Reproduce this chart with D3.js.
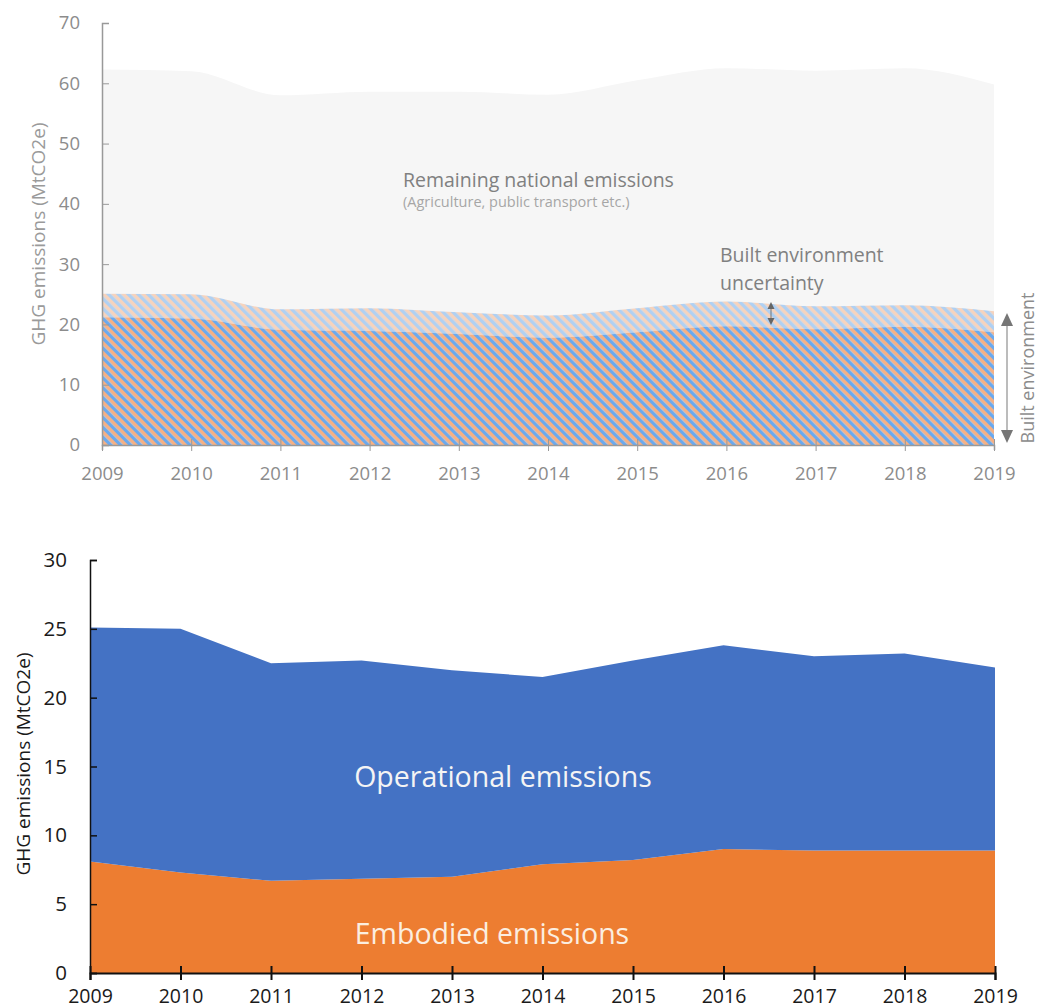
<!DOCTYPE html>
<html><head><meta charset="utf-8">
<script src="https://cdn.jsdelivr.net/npm/d3@7"></script>
<style>
body{margin:0;background:#fff;}
svg{display:block;font-family:"Open Sans","Noto Sans",sans-serif;}
</style></head>
<body>
<svg id="chart" width="1039" height="1008"></svg>
<script>
const years = [2009,2010,2011,2012,2013,2014,2015,2016,2017,2018,2019];
// Top chart
const nationalTotal = [62.3,62.0,58.0,58.6,58.6,58.1,60.5,62.5,62.1,62.5,59.8];
const builtEnvLower = [21.2,21.0,19.1,18.9,18.4,17.8,18.7,19.7,19.2,19.6,18.7];
const builtEnvUpper = [25.1,25.0,22.5,22.7,22.0,21.5,22.7,23.8,23.0,23.2,22.2];
const topYTicks = [0,10,20,30,40,50,60,70];
// Bottom chart
const embodied = [8.1,7.3,6.7,6.85,7.0,7.9,8.2,9.0,8.9,8.9,8.9];
const operational = builtEnvUpper.map((t,i)=>+(t-embodied[i]).toFixed(2));
const botYTicks = [0,5,10,15,20,25,30];

const svg = d3.select("#chart");
const defs = svg.append("defs");
function stripes(id, op){
  const p = defs.append("pattern").attr("id",id).attr("patternUnits","userSpaceOnUse")
    .attr("width",7).attr("height",7).attr("patternTransform","rotate(-45)");
  p.append("rect").attr("width",3.6).attr("height",7).attr("fill","#6aa9ee").attr("opacity",op);
  p.append("rect").attr("x",3.6).attr("width",3.4).attr("height",7).attr("fill","#f6b083").attr("opacity",op);
}
stripes("hatch",1);
stripes("hatchLight",0.5);

// ---------- TOP CHART ----------
const gray = "#8c8c8c";
const xT = d3.scaleLinear().domain([2009,2019]).range([102,994]);
const yT = d3.scaleLinear().domain([0,70]).range([445,23]);
const gT = svg.append("g");
const curve = d3.curveMonotoneX;
const dT = years.map((y,i)=>({y, tot:nationalTotal[i], lo:builtEnvLower[i], up:builtEnvUpper[i]}));
gT.append("path").datum(dT).attr("fill","#f6f6f6")
  .attr("d", d3.area().curve(curve).x(d=>xT(d.y)).y0(yT(0)).y1(d=>yT(d.tot)));
gT.append("path").datum(dT).attr("fill","url(#hatchLight)")
  .attr("d", d3.area().curve(curve).x(d=>xT(d.y)).y0(d=>yT(d.lo)).y1(d=>yT(d.up)));
gT.append("path").datum(dT).attr("fill","url(#hatch)")
  .attr("d", d3.area().curve(curve).x(d=>xT(d.y)).y0(yT(0)).y1(d=>yT(d.lo)));

const axTY = gT.append("g").attr("transform",`translate(${xT(2009)},0)`)
  .call(d3.axisLeft(yT).tickValues(topYTicks).tickSize(-7).tickPadding(22));
axTY.select(".domain").attr("stroke","#999").attr("stroke-width",1.5);
axTY.selectAll(".tick line").attr("stroke","#999");
axTY.selectAll("text").attr("fill",gray).attr("font-size",18.5).attr("font-family","Open Sans");
const axTX = gT.append("g").attr("transform",`translate(0,${yT(0)})`)
  .call(d3.axisBottom(xT).tickValues(years).tickFormat(d3.format("d")).tickSize(5).tickPadding(17));
axTX.select(".domain").attr("stroke","#999").attr("stroke-width",1.5);
axTX.selectAll(".tick line").attr("stroke","#999").attr("y1",-6).attr("y2",6);
axTX.selectAll("text").attr("fill",gray).attr("font-size",18.5).attr("font-family","Open Sans");

gT.append("text").attr("transform","translate(45,234) rotate(-90)").attr("text-anchor","middle")
  .attr("fill","#9a9a9a").attr("font-size",19).text("GHG emissions (MtCO2e)");
gT.append("text").attr("x",403).attr("y",187).attr("fill","#808080").attr("font-size",19.5)
  .text("Remaining national emissions");
gT.append("text").attr("x",403).attr("y",207).attr("fill","#a6a6a6").attr("font-size",14.5)
  .text("(Agriculture, public transport etc.)");
gT.append("text").attr("x",720).attr("y",262).attr("fill","#808080").attr("font-size",19.5)
  .text("Built environment");
gT.append("text").attr("x",720).attr("y",290).attr("fill","#808080").attr("font-size",19.5)
  .text("uncertainty");

// small uncertainty arrow
const ax1 = 771;
gT.append("line").attr("x1",ax1).attr("x2",ax1).attr("y1",305).attr("y2",322).attr("stroke","#777").attr("stroke-width",1);
gT.append("path").attr("d",`M${ax1-3.5},309 L${ax1},302 L${ax1+3.5},309 Z`).attr("fill","#666");
gT.append("path").attr("d",`M${ax1-3.5},318 L${ax1},325 L${ax1+3.5},318 Z`).attr("fill","#666");

// big built environment arrow
const ax2 = 1007;
gT.append("line").attr("x1",ax2).attr("x2",ax2).attr("y1",322).attr("y2",434).attr("stroke","#a6a6a6").attr("stroke-width",1.5);
gT.append("path").attr("d",`M${ax2-6},326 L${ax2},313 L${ax2+6},326 Z`).attr("fill","#767676");
gT.append("path").attr("d",`M${ax2-6},430 L${ax2},443 L${ax2+6},430 Z`).attr("fill","#767676");
gT.append("text").attr("transform","translate(1034,368) rotate(-90)").attr("text-anchor","middle")
  .attr("fill","#8c8c8c").attr("font-size",18).text("Built environment");

// ---------- BOTTOM CHART ----------
const xB = d3.scaleLinear().domain([2009,2019]).range([90,995]);
const yB = d3.scaleLinear().domain([0,30]).range([973,560]);
const gB = svg.append("g");
const dB = years.map((y,i)=>({y, emb:embodied[i], op:operational[i]}));
const stack = d3.stack().keys(["emb","op"])(dB);
const colors = {emb:"#ed7d31", op:"#4472c4"};
gB.selectAll("path.layer").data(stack).join("path").attr("class","layer")
  .attr("fill",d=>colors[d.key])
  .attr("d", d3.area().x(d=>xB(d.data.y)).y0(d=>yB(d[0])).y1(d=>yB(d[1])));

const axBY = gB.append("g").attr("transform",`translate(${xB(2009)},0)`)
  .call(d3.axisLeft(yB).tickValues(botYTicks).tickSize(-7).tickPadding(23));
axBY.select(".domain").attr("stroke","#111").attr("stroke-width",1.5);
axBY.selectAll(".tick line").attr("stroke","#111").attr("stroke-width",1.5);
axBY.selectAll("text").attr("fill","#1a1a1a").attr("font-size",20.5).attr("font-family","Open Sans");
const axBX = gB.append("g").attr("transform",`translate(0,${yB(0)})`)
  .call(d3.axisBottom(xB).tickValues(years).tickFormat(d3.format("d")).tickSize(7).tickPadding(9));
axBX.select(".domain").attr("stroke","#111").attr("stroke-width",2);
axBX.selectAll(".tick line").attr("stroke","#111").attr("stroke-width",2).attr("y1",-7).attr("y2",7);
axBX.selectAll("text").attr("fill","#1a1a1a").attr("font-size",19.5).attr("font-family","Open Sans");

gB.append("text").attr("transform","translate(30,764) rotate(-90)").attr("text-anchor","middle")
  .attr("fill","#1a1a1a").attr("font-size",19).text("GHG emissions (MtCO2e)");
gB.append("text").attr("x",503).attr("y",787).attr("text-anchor","middle").attr("fill","#f4f4f4")
  .attr("font-size",28.5).text("Operational emissions");
gB.append("text").attr("x",492).attr("y",944).attr("text-anchor","middle").attr("fill","#fbeee0")
  .attr("font-size",28.5).text("Embodied emissions");
</script>
</body></html>
